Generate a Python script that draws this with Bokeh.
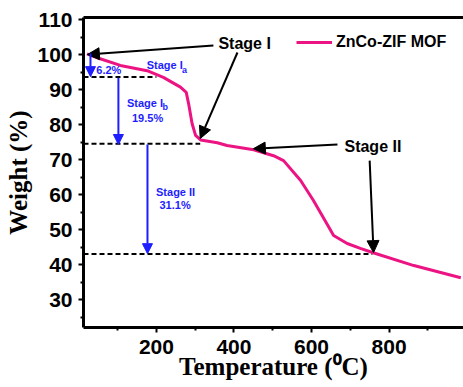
from bokeh.plotting import figure
from bokeh.models import (Arrow, NormalHead, Label, Legend, LegendItem, LinearAxis,
                          Range1d, FixedTicker, ColumnDataSource)
from bokeh.embed import file_html
from bokeh.resources import INLINE

# ---- data ----
temperature = [21, 55, 107, 176, 218, 262, 277, 283, 292, 301, 314, 357, 382, 451,
               502, 528, 572, 605, 640, 657, 692, 726, 761, 864, 985]
weight = [100.2, 98.8, 96.9, 95.4, 93.5, 90.7, 89.2, 86.0, 80.3, 76.9, 75.6, 74.8,
          74.0, 72.8, 71.1, 69.7, 64.0, 58.3, 51.6, 48.3, 46.0, 44.6, 43.3, 39.7, 36.2]
series_name = "ZnCo-ZIF MOF"

x_ticks = [200, 400, 600, 800]
x_minor = [100, 300, 500, 700, 900]
y_ticks = [30, 40, 50, 60, 70, 80, 90, 100, 110]
y_minor = [25, 35, 45, 55, 65, 75, 85, 95, 105]

# dashed level lines (weight level, end temperature)
level_y = [93.6, 74.5, 43.0]
level_x_end = [200, 313, 757]

# blue arrows for stage weight losses
blue_x = [30, 102, 177]
blue_y_start = [100.3, 93.4, 74.3]
blue_y_end = [93.7, 74.3, 43.1]

# black arrows: (x_start, y_start, x_end, y_end)
black_x0 = [347, 409, 667, 750]
black_y0 = [102.6, 100.6, 74.3, 69.7]
black_x1 = [22, 313, 450, 760]
black_y1 = [100.0, 76.0, 73.1, 43.4]

PINK = "#EC1483"
BLUE = "#1E1EFF"

p = figure(width=463, height=387, output_backend="svg", toolbar_location=None,
           x_range=Range1d(12, 992), y_range=Range1d(22.0, 110.6),
           min_border_left=83, min_border_top=17, min_border_right=0, min_border_bottom=60)
p.outline_line_color = None
p.xgrid.visible = False
p.ygrid.visible = False
p.background_fill_color = "white"
p.border_fill_color = "white"

for ax, ticks, minor in ((p.xaxis[0], x_ticks, x_minor), (p.yaxis[0], y_ticks, y_minor)):
    ax.ticker = FixedTicker(ticks=ticks, minor_ticks=minor)
    ax.axis_line_width = 3
    ax.major_tick_in = 0
    ax.major_tick_out = 5
    ax.minor_tick_in = 0
    ax.minor_tick_out = 3
    ax.major_tick_line_width = 2
    ax.minor_tick_line_width = 2
    ax.major_label_text_font = "Liberation Sans"
    ax.major_label_text_font_style = "bold"
    ax.major_label_text_font_size = "21px"
    ax.major_label_text_color = "black"
    ax.axis_label_text_font = "Liberation Serif"
    ax.axis_label_text_font_style = "bold"
    ax.axis_label_text_font_size = "25px"
    ax.axis_label_text_color = "black"

p.xaxis.axis_label = "Temperature (\u2070C)"
p.yaxis.axis_label = "Weight (%)"
p.xaxis.major_label_standoff = 7
p.xaxis.axis_label_standoff = -4
p.yaxis.major_label_standoff = 6
p.yaxis.axis_label_standoff = 2

top_axis = LinearAxis(ticker=FixedTicker(ticks=[]), axis_line_width=3,
                      major_tick_line_color=None, minor_tick_line_color=None,
                      major_label_text_font_size="0px")
p.add_layout(top_axis, "above")

# dashed level lines
lvl = ColumnDataSource(dict(x0=[12] * len(level_y), y0=level_y, x1=level_x_end, y1=level_y))
p.segment(x0="x0", y0="y0", x1="x1", y1="y1", source=lvl, line_color="black",
          line_width=2, line_dash="5 3")

# curve
r = p.line(temperature, weight, line_color=PINK, line_width=3)

legend = Legend(items=[LegendItem(label=series_name, renderers=[r])],
                location=(213, 275), padding=0, margin=0, spacing=0,
                border_line_color=None, background_fill_alpha=0,
                glyph_width=36, glyph_height=20, label_standoff=4,
                label_text_font="Liberation Sans", label_text_font_style="bold",
                label_text_font_size="16px", label_text_color="black")
p.add_layout(legend)

# black arrows
for xs, ys, xe, ye in zip(black_x0, black_y0, black_x1, black_y1):
    p.add_layout(Arrow(x_start=xs, y_start=ys, x_end=xe, y_end=ye, line_width=2,
                       line_color="black",
                       end=NormalHead(size=12, fill_color="black", line_color="black")))

# blue arrows
for xb, ys, ye in zip(blue_x, blue_y_start, blue_y_end):
    p.add_layout(Arrow(x_start=xb, y_start=ys, x_end=xb, y_end=ye, line_width=2,
                       line_color=BLUE,
                       end=NormalHead(size=10, fill_color=BLUE, line_color=BLUE)))

def lab(x, y, text, color="black", size="16px"):
    p.add_layout(Label(x=x, y=y, text=text, text_color=color, text_font="Liberation Sans",
                       text_font_style="bold", text_font_size=size,
                       text_align="left", text_baseline="middle"))

lab(360, 103.3, "Stage I")
lab(685, 73.7, "Stage II")

lab(45, 95.7, "6.2%", BLUE, "11px")
lab(175, 96.9, "Stage I", BLUE, "11px")
lab(266, 95.6, "a", BLUE, "9px")
lab(124, 86.3, "Stage I", BLUE, "11px")
lab(216, 85.0, "b", BLUE, "9px")
lab(137, 81.9, "19.5%", BLUE, "11px")
lab(199, 60.7, "Stage II", BLUE, "11px")
lab(208, 57.1, "31.1%", BLUE, "11px")

open("out.html", "w").write(file_html(p, INLINE))
